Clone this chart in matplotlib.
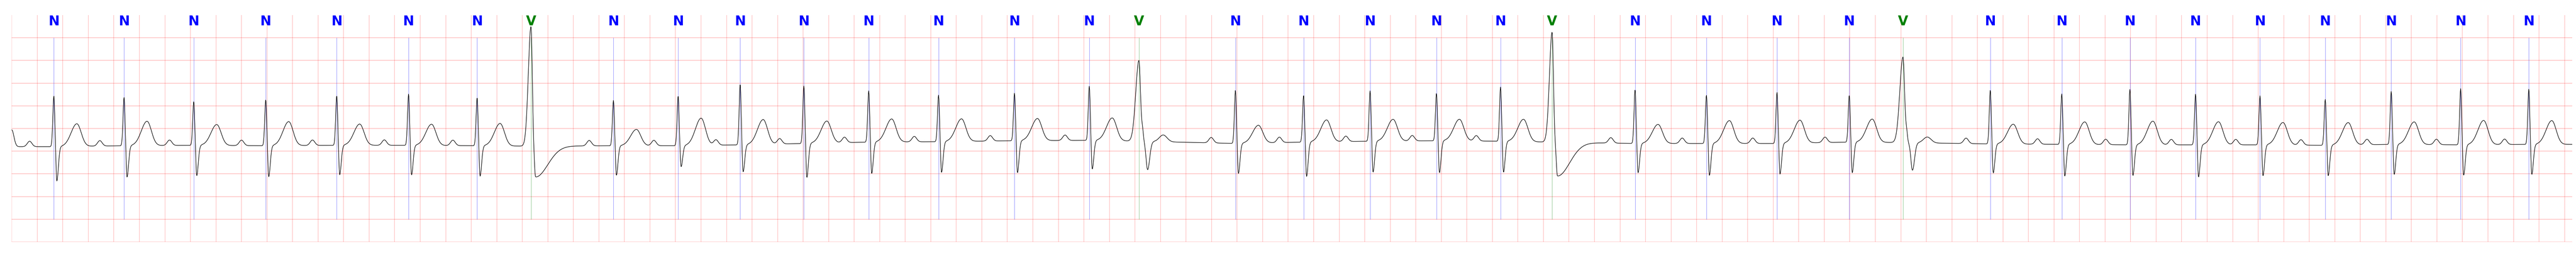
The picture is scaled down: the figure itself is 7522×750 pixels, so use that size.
import numpy as np
import matplotlib
matplotlib.use("Agg")
import matplotlib.pyplot as plt

fs = 360.0                      # samples per second
duration_s = 20.06              # visible strip length
start_mv = -0.03                # level at the very first sample (tail of previous T wave)

beat_times = [0.330, 0.880, 1.426, 1.990, 2.546, 3.109, 3.646, 4.068, 4.714,
              5.221, 5.707, 6.206, 6.714, 7.261, 7.856, 8.442, 8.831, 9.587,
              10.121, 10.642, 11.162, 11.664, 12.068, 12.718, 13.277, 13.830, 14.396, 14.817,
              15.501, 16.061, 16.595, 17.109, 17.614, 18.125, 18.642, 19.186, 19.720]

beat_labels = list("NNNNNNN" + "V" + "NNNNNNNN" + "V" + "NNNNN" + "V" + "NNNN" + "V" + "NNNNNNNNN")

# R (or ectopic) peak level, mV
peak_mv = [0.717, 0.687, 0.596, 0.636, 0.727, 0.763, 0.684, 2.250, 0.621,
           0.722, 0.982, 0.939, 0.831, 0.737, 0.780, 0.932, 1.500, 0.843,
           0.737, 0.831, 0.775, 0.914, 2.126, 0.861, 0.737, 0.798, 0.737, 1.576,
           0.848, 0.763, 0.864, 0.760, 0.722, 0.641, 0.818, 0.881, 0.869]

# S / post-peak trough level, mV
trough_mv = [-1.164, -1.076, -1.045, -1.071, -1.025, -1.030, -1.056, -1.070, -1.038,
             -0.848, -0.962, -1.088, -1.000, -0.975, -0.982, -0.899, -0.904, -1.000,
             -1.063, -0.970, -0.980, -0.970, -1.045, -0.982, -1.038, -1.013, -0.980, -0.917,
             -0.987, -1.056, -1.045, -1.076, -1.050, -1.050, -1.020, -1.038, -1.020]

# delay from peak to trough, s
trough_delay_s = [0.023, 0.023, 0.023, 0.023, 0.023, 0.023, 0.023, 0.036, 0.023,
                  0.023, 0.023, 0.023, 0.023, 0.023, 0.023, 0.023, 0.068, 0.023,
                  0.023, 0.023, 0.023, 0.023, 0.042, 0.023, 0.023, 0.023, 0.023, 0.074,
                  0.023, 0.023, 0.023, 0.023, 0.023, 0.023, 0.023, 0.023, 0.023]

# T wave (or post-ectopic hump) top level, mV ; nan = none
t_wave_mv = [0.098, 0.157, 0.091, 0.149, 0.098, 0.098, 0.116, np.nan, -0.020,
             0.220, 0.187, 0.154, 0.207, 0.207, 0.217, 0.242, -0.130, 0.061,
             0.182, 0.199, 0.207, 0.212, np.nan, 0.091, 0.174, 0.174, 0.212, -0.180,
             0.098, 0.149, 0.162, 0.149, 0.136, 0.124, 0.149, 0.174, 0.174]

# isoelectric level around each beat, mV
baseline_mv = [-0.40, -0.38, -0.37, -0.38, -0.37, -0.37, -0.38, -0.39, -0.38,
               -0.38, -0.36, -0.33, -0.30, -0.29, -0.27, -0.26, -0.28, -0.33,
               -0.30, -0.28, -0.27, -0.28, -0.30, -0.33, -0.33, -0.33, -0.30, -0.31,
               -0.34, -0.35, -0.36, -0.36, -0.36, -0.37, -0.35, -0.36, -0.35]

p_wave_mv = 0.12                # P wave height above baseline

label_colors = {"N": "blue", "V": "green"}

# ---------------- build the trace from the beat parameters ----------------
def agauss(t, c, a, sl, sr):
    s = np.where(t < c, sl, sr)
    return a * np.exp(-0.5 * ((t - c) / s) ** 2)

t = np.arange(0.0, duration_s, 1.0 / fs)
sig = np.interp(t, beat_times, baseline_mv)
sig = sig + agauss(t, 0.0, start_mv - baseline_mv[0], 0.017, 0.017)

for r, lab, pk, tr, dl, tw, b in zip(beat_times, beat_labels, peak_mv, trough_mv,
                                      trough_delay_s, t_wave_mv, baseline_mv):
    if lab == "N":
        sig += agauss(t, r - 0.19, p_wave_mv, 0.018, 0.018)
        sig += agauss(t, r, pk - b, 0.008, 0.007)
        sig += agauss(t, r + dl, tr - b, 0.006, 0.012)
        sig += agauss(t, r + 0.18, tw - b, 0.045, 0.034)
    else:
        if dl < 0.05:
            sig += agauss(t, r, pk - b, 0.021, 0.010)
            sig += agauss(t, r + dl, tr - b, 0.009, 0.095)
        else:
            sig += agauss(t, r, pk - b, 0.025, 0.012)
            sig += agauss(t, r + 0.028, 0.22, 0.007, 0.007)
            sig += agauss(t, r + dl, tr - b, 0.012, 0.016)
        if not np.isnan(tw):
            sig += agauss(t, r + 0.19, tw - b, 0.03, 0.03)

# ---------------- figure ----------------
W, H = 7522, 750
fig = plt.figure(figsize=(W / 100, H / 100), dpi=100)
fig.patch.set_facecolor("white")
ax = fig.add_axes([34.3 / W, 44 / H, (7511 - 34.3) / W, (706 - 44) / H])
ax.set_xlim(0, duration_s)
ax.set_ylim(-2.5, 2.5)
ax.axis("off")

# ECG paper grid (0.2 s x 0.5 mV)
xg = np.arange(0, duration_s, 0.2)
yg = np.arange(-2.5, 2.5, 0.5)
ax.vlines(xg, -2.5, 2.5, colors="red", alpha=0.25, linewidth=1.2, zorder=1)
ax.hlines(yg, 0, duration_s, colors="red", alpha=0.25, linewidth=1.4, zorder=1)

# annotations
for r, lab in zip(beat_times, beat_labels):
    c = label_colors[lab]
    ax.vlines(r, -2.0, 2.0, colors=c, alpha=0.5, linewidth=0.8, zorder=2)
    ax.text(r, 2.5, lab, ha="center", va="top", color=c, fontsize=28,
            fontweight="bold", family=["Liberation Sans Narrow", "DejaVu Sans"], zorder=4)

ax.plot(t, sig, color="black", linewidth=1.1, zorder=3)

fig.savefig("out.png", dpi=100, facecolor="white")
